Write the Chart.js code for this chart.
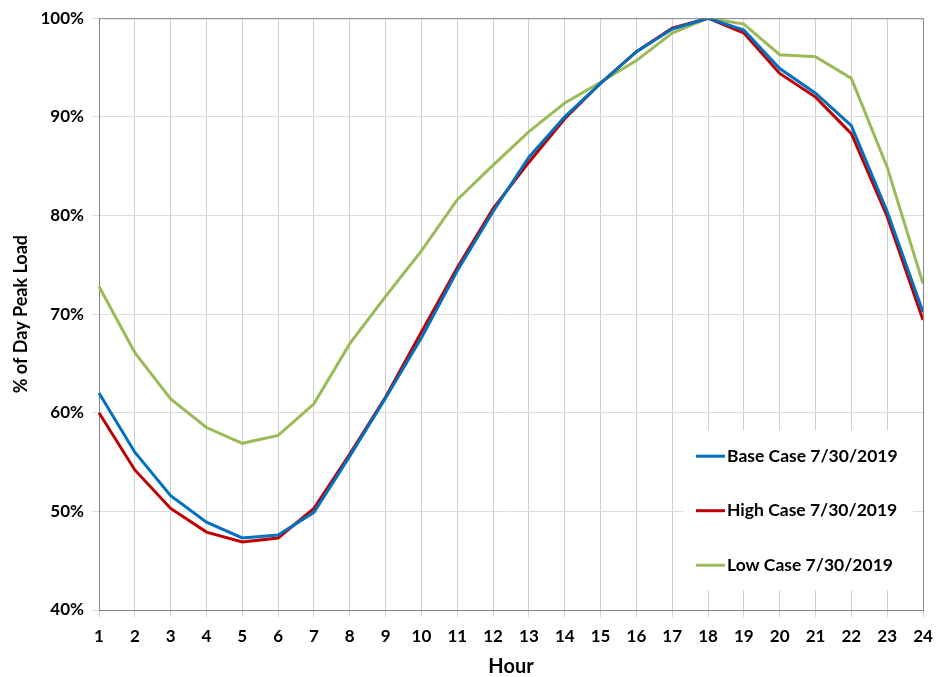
<!DOCTYPE html>
<html><head><meta charset="utf-8">
<script src="https://cdn.jsdelivr.net/npm/chart.js@4"></script>
<style>html,body{margin:0;padding:0;background:#fff}#wrap{width:937px;height:677px}</style>
</head><body><div id="wrap"><canvas id="c" width="937" height="677"></canvas></div>
<script>
const hours = ["1","2","3","4","5","6","7","8","9","10","11","12","13","14","15","16","17","18","19","20","21","22","23","24"];
const baseCase = [62.0,56.0,51.6,48.9,47.3,47.6,49.9,55.6,61.5,67.6,74.4,80.4,85.9,90.0,93.4,96.6,98.9,100.0,98.8,94.9,92.4,89.1,80.4,70.2];
const highCase = [60.0,54.2,50.3,47.9,46.9,47.3,50.3,55.8,61.6,68.2,74.7,80.7,85.4,89.8,93.4,96.6,99.0,100.0,98.5,94.4,92.0,88.3,79.9,69.4];
const lowCase  = [72.8,66.1,61.4,58.5,56.9,57.7,60.9,67.0,71.8,76.4,81.6,85.1,88.5,91.4,93.5,95.7,98.5,100.0,99.4,96.3,96.1,93.9,84.9,73.1];
const seriesNames = ["Base Case 7/30/2019","High Case 7/30/2019","Low Case 7/30/2019"];
const seriesColors = ["#0070C0","#C00000","#9BBB59"];
const yTicks = [40,50,60,70,80,90,100];

const FONT = "Lato, 'Open Sans', sans-serif";

const frame = {
  id:'frame',
  afterDatasetsDraw(chart){
    const {ctx, chartArea:a} = chart;
    ctx.save();
    ctx.strokeStyle = '#868686'; ctx.lineWidth = 1;
    ctx.beginPath();
    ctx.moveTo(a.left, a.top+0.5); ctx.lineTo(a.right, a.top+0.5);
    ctx.moveTo(a.right+0.5, a.top); ctx.lineTo(a.right+0.5, a.bottom);
    ctx.stroke();
    // legend box inside plot
    const bx = a.left + 584, by = a.top + 412, bw = 230, bh = 160;
    ctx.fillStyle = '#fff';
    ctx.fillRect(bx, by, bw, bh);
    ctx.font = "bold 17.5px " + FONT;
    ctx.textBaseline = 'middle';
    chart.data.datasets.forEach((ds, i) => {
      const y = a.top + 438 + i*54.5;
      ctx.strokeStyle = ds.borderColor; ctx.lineWidth = 3;
      ctx.beginPath(); ctx.moveTo(a.left+597, y); ctx.lineTo(a.left+626, y); ctx.stroke();
      ctx.fillStyle = '#000';
      ctx.fillText(ds.label, a.left+628, y);
    });
    ctx.restore();
  }
};

new Chart(document.getElementById('c'), {
  type:'line',
  data:{
    labels: hours,
    datasets: [baseCase, highCase, lowCase].map((d,i)=>({
      label: seriesNames[i], data: d, borderColor: seriesColors[i], backgroundColor: seriesColors[i],
      borderWidth: 3, pointRadius: 0, tension: 0, fill:false
    }))
  },
  options:{
    responsive:false, animation:false,
    layout:{padding:{top:18,right:14,left:0,bottom:0}},
    plugins:{legend:{display:false}, tooltip:{enabled:false}},
    scales:{
      x:{
        offset:false,
        grid:{color:'#d0d0d0', tickLength:7, lineWidth:1},
        border:{color:'#868686', width:1},
        ticks:{color:'#000', font:{family:FONT, weight:'bold', size:17}, padding:9, maxRotation:0, autoSkip:false},
        title:{display:true, text:'Hour', color:'#000', font:{family:FONT, weight:'bold', size:20, lineHeight:1}, padding:0},
        afterFit(s){ s.height = 67; s.paddingRight = 0; s.paddingLeft = 0; }
      },
      y:{
        min:40, max:100,
        afterBuildTicks(s){ s.ticks = yTicks.map(v=>({value:v})); },
        grid:{color:'#dcdcdc', tickLength:7, lineWidth:1},
        border:{color:'#868686', width:1},
        ticks:{color:'#000', font:{family:FONT, weight:'bold', size:17}, padding:8, callback:v=>v+'%'},
        title:{display:true, text:'% of Day Peak Load', color:'#000', font:{family:FONT, weight:'bold', size:18}, padding:{top:10, bottom:0}},
        afterFit(s){ s.width = 99; }
      }
    }
  },
  plugins:[frame]
});
</script></body></html>
